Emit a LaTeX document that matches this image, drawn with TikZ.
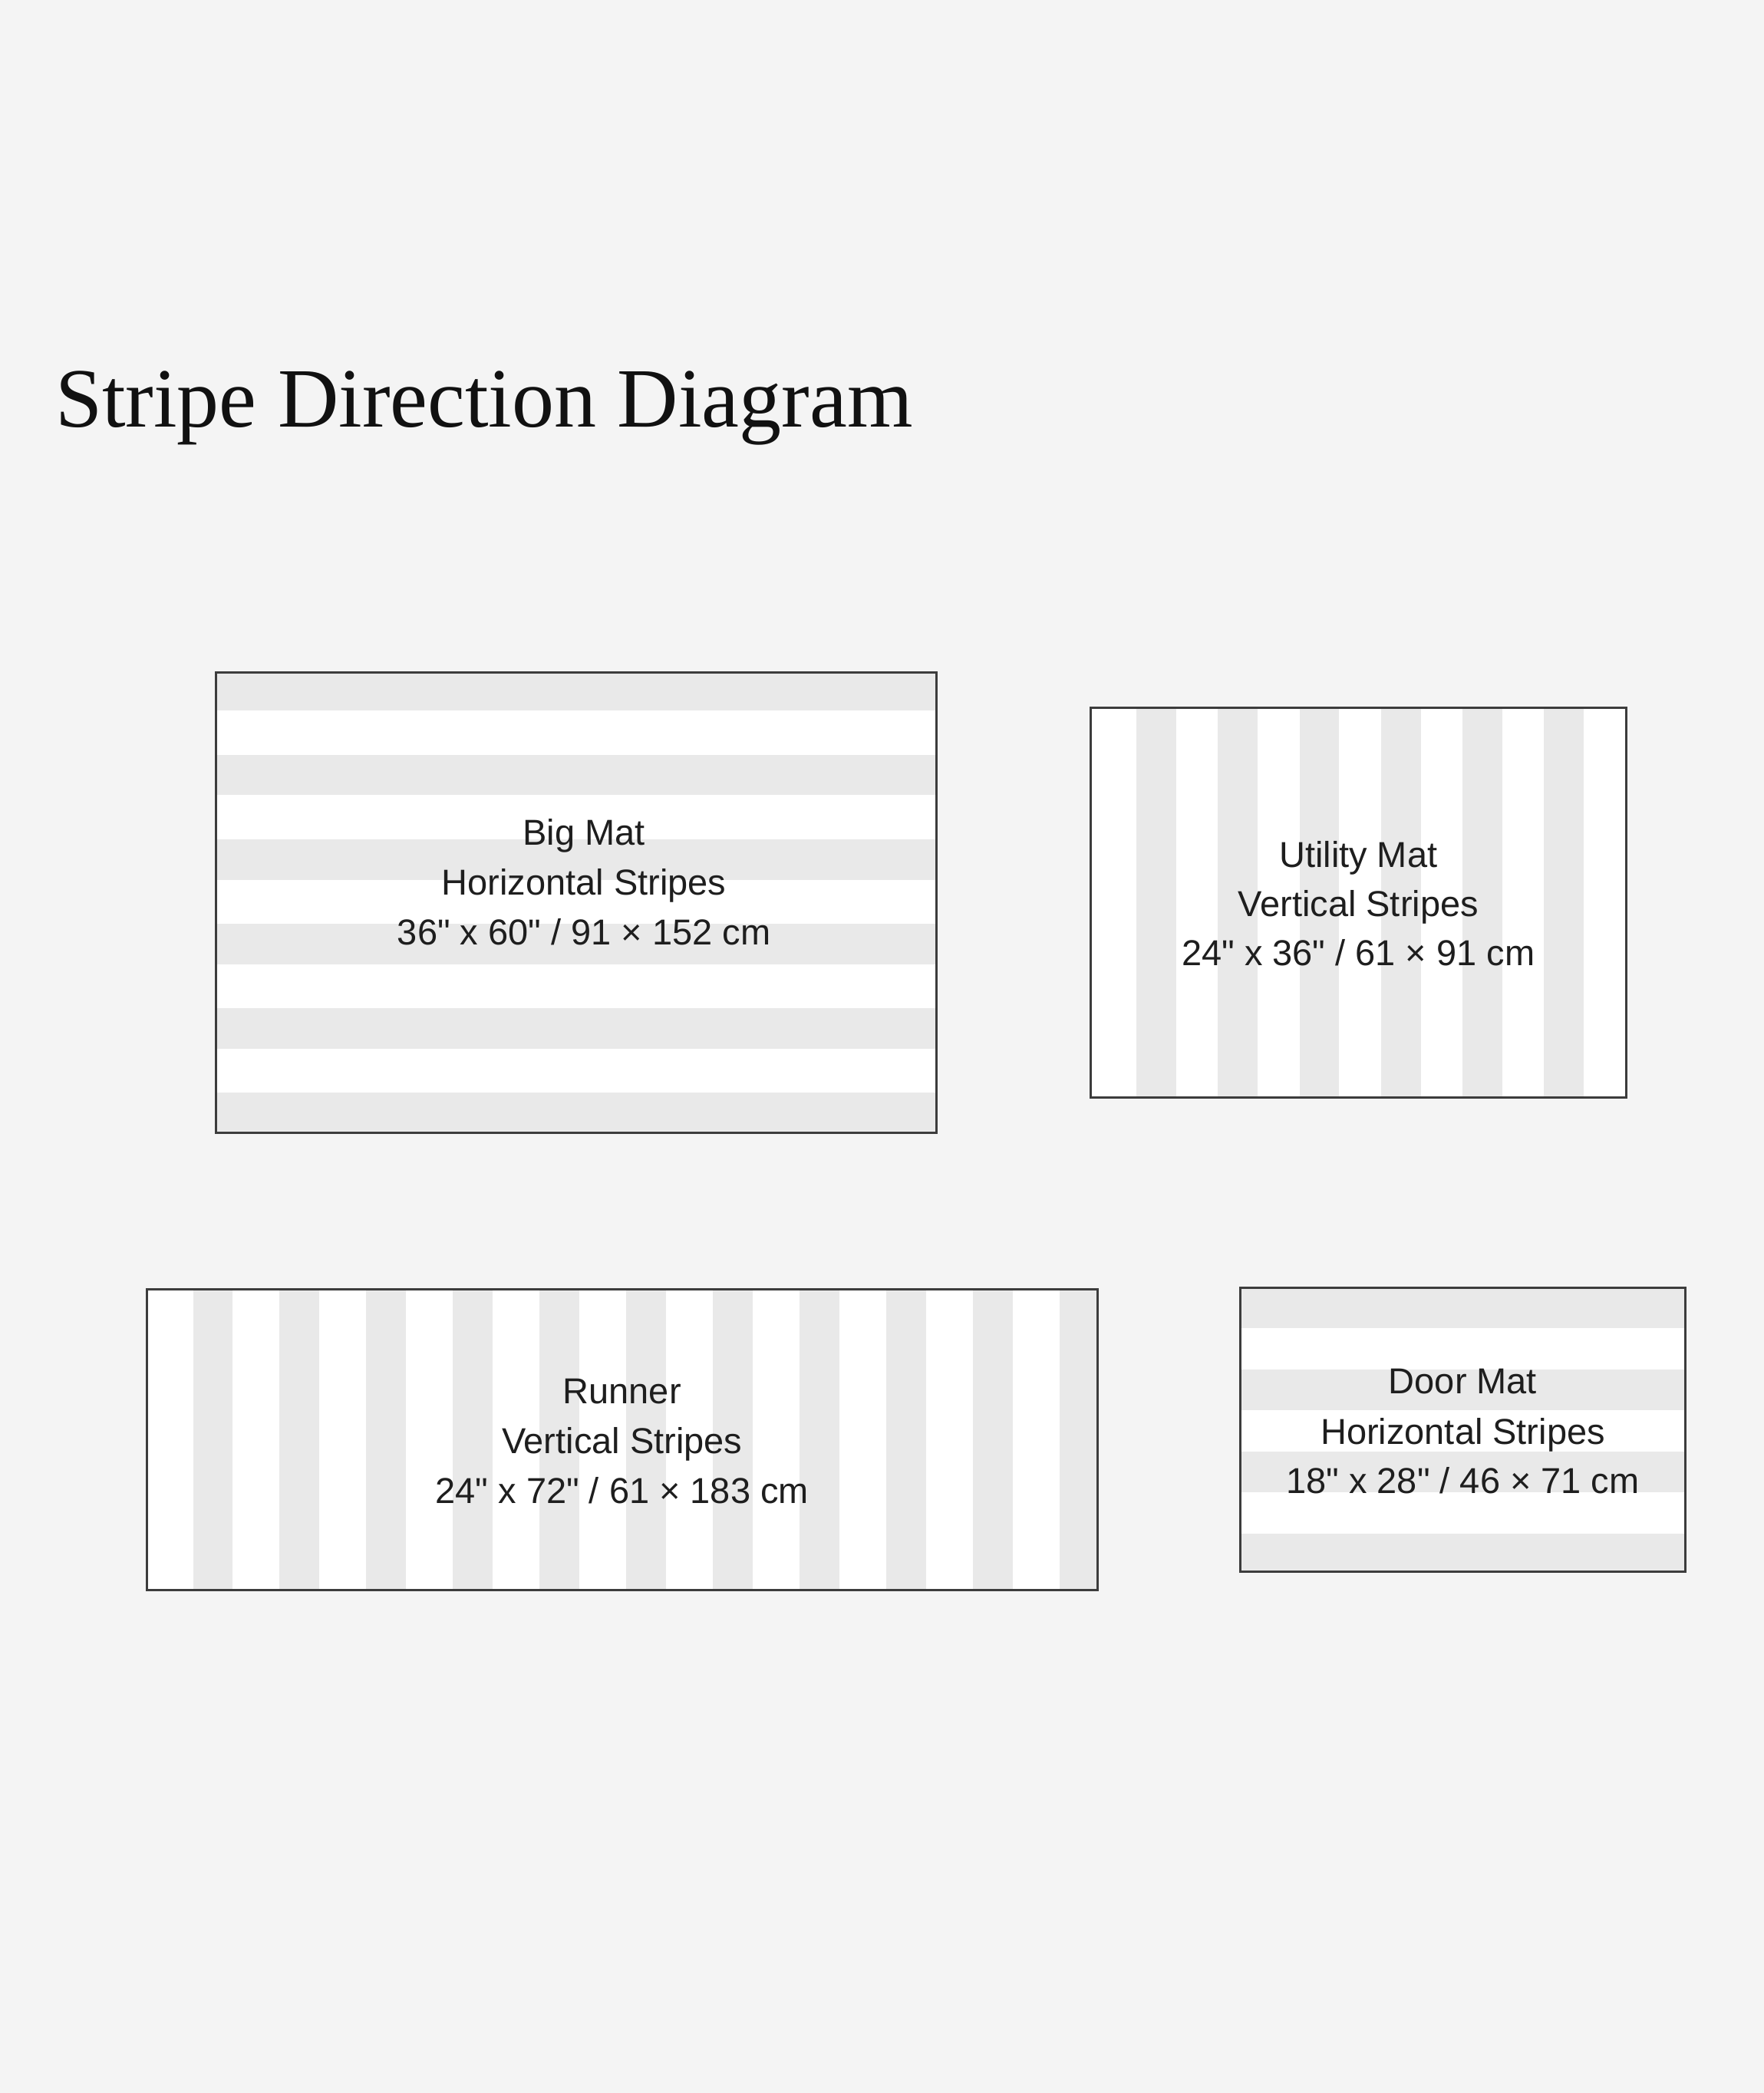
\documentclass[tikz,border=0pt]{standalone}
\usepackage{fontspec}
\setmainfont{Liberation Sans}
\newfontfamily\labelfont{Liberation Sans}
\newfontfamily\titlefont{Liberation Serif}
\definecolor{bgcolor}{HTML}{F4F4F4}
\definecolor{stripegray}{HTML}{E9E9E9}
\definecolor{matborder}{HTML}{3C3C3C}
\definecolor{labeltext}{HTML}{1E1E1E}
\definecolor{titletext}{HTML}{111111}
\begin{document}
\begin{tikzpicture}[x=0.5pt,y=-0.5pt,
  mat/.style={draw=matborder, line width=0.85pt, fill=white, inner sep=0pt, outer sep=0pt, anchor=north west},
  band/.style={fill=stripegray, draw=none},
  rim/.style={draw=matborder, line width=0.85pt},
  lbl/.style={font=\labelfont\fontsize{13.5}{15}\selectfont, text=labeltext, anchor=base, inner sep=0pt},
  ttl/.style={font=\titlefont\fontsize{31.6}{36}\selectfont, text=titletext, anchor=base west, inner sep=0pt}]
\fill[bgcolor] (0,0) rectangle (1321.4,1568);
\useasboundingbox (0,0) rectangle (1321.4,1568);

% title
\node[ttl] (title) at (41,319.9) {Stripe Direction Diagram};

% Big Mat (horizontal stripes)
\node[mat, minimum width=269.98pt, minimum height=172.45pt] (big) at (161.75,503.6) {};
\begin{scope}
  \clip (big.north west) rectangle (big.south east);
  \foreach \k in {0,...,5}
    \fill[band] (161.75,{502.2+63.3*\k}) rectangle (701.7,{532.4+63.3*\k});
\end{scope}
\draw[rim] (big.north west) rectangle (big.south east);
\node[lbl] (bigA) at (437.5,633) {Big Mat};
\node[lbl] (bigB) at (437.5,670.5) {Horizontal Stripes};
\node[lbl] (bigC) at (437.5,708) {36" x 60" / 91 × 152 cm};

% Utility Mat (vertical stripes)
\node[mat, minimum width=200.5pt, minimum height=146pt] (util) at (817,530) {};
\begin{scope}
  \clip (util.north west) rectangle (util.south east);
  \foreach \k in {0,...,5}
    \fill[band] ({851.4+61*\k},530) rectangle ({881.2+61*\k},822);
\end{scope}
\draw[rim] (util.north west) rectangle (util.south east);
\node[lbl] (utilA) at (1017.5,649.5) {Utility Mat};
\node[lbl] (utilB) at (1017.5,686.5) {Vertical Stripes};
\node[lbl] (utilC) at (1017.5,723.5) {24" x 36" / 61 × 91 cm};

% Runner (vertical stripes)
\node[mat, minimum width=356.05pt, minimum height=112.5pt] (runner) at (110.3,966) {};
\begin{scope}
  \clip (runner.north west) rectangle (runner.south east);
  \foreach \k in {0,...,10}
    \fill[band] ({144.6+64.9*\k},966) rectangle ({174.4+64.9*\k},1191);
\end{scope}
\draw[rim] (runner.north west) rectangle (runner.south east);
\node[lbl] (runA) at (466,1051.5) {Runner};
\node[lbl] (runB) at (466,1089) {Vertical Stripes};
\node[lbl] (runC) at (466,1126.2) {24" x 72" / 61 × 183 cm};

% Door Mat (horizontal stripes)
\node[mat, minimum width=166.9pt, minimum height=106.4pt] (door) at (928.9,964.8) {};
\begin{scope}
  \clip (door.north west) rectangle (door.south east);
  \foreach \k in {0,...,3}
    \fill[band] (928.9,{964.2+61.5*\k}) rectangle (1262.7,{995.2+61.5*\k});
\end{scope}
\draw[rim] (door.north west) rectangle (door.south east);
\node[lbl] (doorA) at (1095.8,1044.3) {Door Mat};
\node[lbl] (doorB) at (1095.8,1081.8) {Horizontal Stripes};
\node[lbl] (doorC) at (1095.8,1119) {18" x 28" / 46 × 71 cm};
\end{tikzpicture}
\end{document}
